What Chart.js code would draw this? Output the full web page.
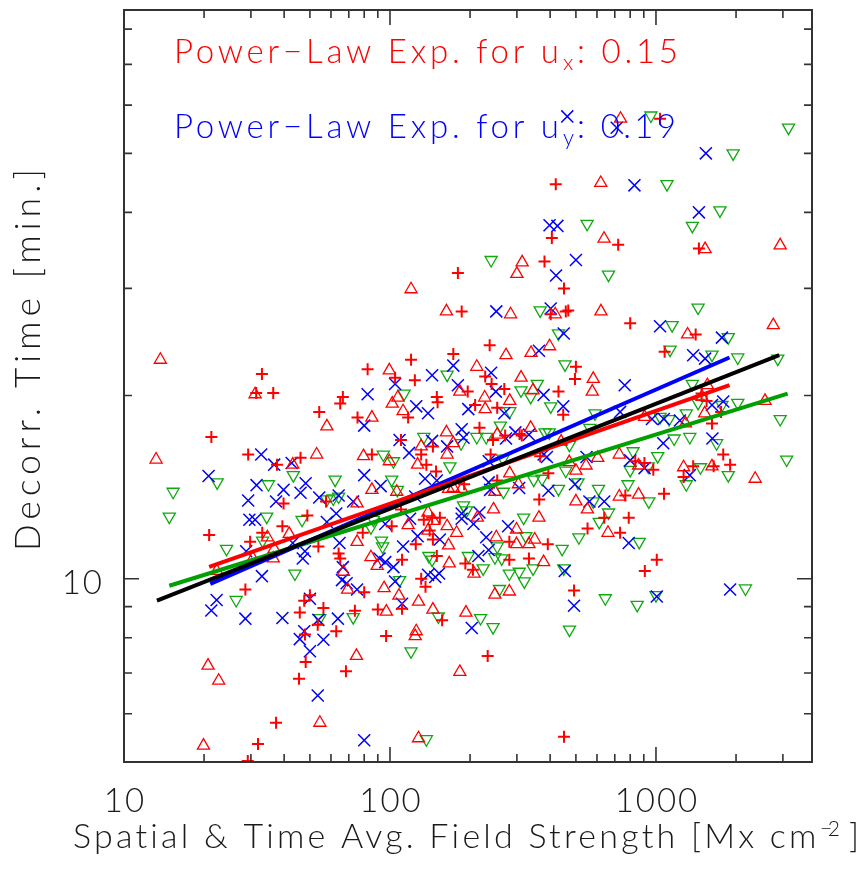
<!DOCTYPE html>
<html>
<head>
<meta charset="utf-8">
<script src="https://cdn.jsdelivr.net/npm/chart.js@4.4.1/dist/chart.umd.min.js"></script>
<style>
  html, body { margin: 0; padding: 0; background: #fff; }
  #wrap { position: relative; width: 868px; height: 869px; }
</style>
</head>
<body>
<div id="wrap"><canvas id="plot"></canvas></div>
<script>
// ── decorrelation time vs. field strength, log-log scatter ─────────────────
// four symbol sets (u_x: red +, red triangles; u_y: blue x, green triangles)
// plus the four power-law fit lines drawn on top.

// axis ranges and ticks
const X_MIN = 10, X_MAX = 3860;
const Y_MIN = 5, Y_MAX = 86;
const xMajor = [10, 100, 1000];
const xMinor = [20, 30, 40, 50, 60, 70, 80, 90, 200, 300, 400, 500, 600, 700, 800, 900, 2000, 3000];
const xTickLabels = ['10', '100', '1000'];
const yMajor = [10];
const yMinor = [5, 6, 7, 8, 9, 20, 30, 40, 50, 60, 70, 80];
const yTickLabels = ['10'];

// red plus
const redPlusField = [33,36.4,31.4,66.5,65,54.2,75.5,21.3,29.3,46.1, 37.6,39.8,57.5,48.9,39.4,20.9,33.1,29.8,53.8,64.1,
  65,28.6,45.8,47.6,50,56.2,53.5,73.8,47.9,62.8, 48.2,68.3,45.5,37.3,31.9,29.2,420,406,381,180,
  451,186,402,458,468,237,173,120,500,82.4, 104.5,124,228,496,241,196,269,430,448,150,
  151,117,209,253,217,307,313,244,271,110, 85.5,145,131,137,239,367,394,149,253,190,
  364,110,79,134,144,154,101.5,141,145,125, 281,392,553,111,150,192,205,281,333,80,
  131,136,111,90,157,96.7,233,492,451,1036, 721,1450,800,1410,1078,1484,1550,1757,1624,1790,
  836,905,977,1380,1647,1900,1270,767,1072,639, 790,733,1007,908];
const redPlusTime = [21.7,20.2,20.2,19.9,19.4,18.8,18.4,17.1,16,15.8, 15.4,13.3,13.4,12.7,12.2,11.8,11.9,11.5,11.3,11,
  10.8,9.6,8.8,9.2,9.4,8.95,8.4,8.86,8.1,8.2, 7.3,7.05,6.85,5.8,5.35,5.02,44.5,36.3,33.2,31.8,
  30,27.5,27.2,27.5,27.6,24.2,23.4,22.9,22.3,22.1, 21.4,21.2,21.5,21.3,20.9,20.3,20.5,20.3,18.6,19.9,
  19.5,18.4,19.3,19.1,17.7,17.3,17.2,16.9,17.2,16.9, 16,16.5,16,15.4,16,15.9,14.9,15,14.5,14.3,
  13.5,13,11.9,12.5,12.6,12.6,12.2,12,11.6,11.4, 11.5,11.4,12.1,10.75,10.9,10.6,10.35,10.75,10.8,9.5,
  10,9.7,8.93,8.9,8.55,8.05,7.47,9.57,5.5,57, 35.4,34.9,26.3,25.2,23.6,20.15,19.6,18.8,18,16,
  15.6,15.5,15.1,15.3,15.3,15.4,14.7,13.7,13.8,12.6, 12.6,11.9,10.75,10.3];

// red upward triangles
const redTriField = [13.7,31.1,57.9,13.2,53,43.1,75.2,34.6,41.8,36.7, 36.4,75.2,30.5,22.3,66.8,69.3,74.8,20.7,22.7,54.5,
  19.9,620,638,314,300,120,163,284,418,621, 398,339,273,99.4,212,311,581,107,102,183,
  345,576,112,85.5,227,228,282,163,338,440, 253,79.5,99.4,131,173,164,127,472,546,500,
  304,282,248,186,173,166,106,85.5,500,552, 139,245,213,363,117,146,164,178,139,166,
  251,299,333,350,299,84.8,89.5,167,378,207, 95,108,96.9,128,145,125.5,124.4,248,281,193,
  183,128,736,1530,2930,1315,2760,1560,1490,1525, 2570,906,1290,604,728,860,1270,1624,2360,728,
  860,660];
const redTriTime = [22.9,20.1,17.8,15.7,16,15.4,13.3,11.7,11.85,11.2, 10.8,11.5,10.8,10.3,10.27,9.6,7.47,7.2,6.8,5.8,
  5.32,44.7,36.2,33.1,31.7,29.9,27.5,27.2,27.2,27.5, 24.1,23.5,23.3,22,22.3,21.4,21.3,19.85,19.4,20.3,
  20.4,20.3,18.85,18.4,19.85,19,19.6,17.4,17.7,16.8, 17.25,15.9,15.6,16.5,16.7,16,15.4,15.55,15.35,15.05,
  14.3,14.9,13.9,14.05,14.1,14.05,13.9,14,13.4,13, 12.85,13,12.6,12.6,12.25,12.45,12.2,11.9,12,11.35,
  11.7,11.4,11.4,11.6,12.05,10.85,10.5,10.6,10.65,10.2, 9.65,9.38,8.83,9.17,8.9,8.2,8.05,9.42,9.53,8.8,
  7.03,5.47,57,34.8,35.3,25.2,26.1,20.8,19.9,18.7, 19.6,18.45,18,15.8,16,15.35,15.25,15.3,14.6,13.65,
  13.75,11.9];

// blue crosses
const blueXField = [32.8,36.7,42.7,20.8,31.5,48.2,39.8,46.1,29.3,37.3, 54.2,64.1,72.7,29.6,31.1,57.9,62.8,43.1,28.8,47.9,
  47,64.6,66.5,33,66,68.7,75.2,22.3,21.3,28.6, 39.4,50,53.8,63.7,47.6,45.8,56.2,50,53.5,80,
  464,398,426,500,421,251,402,450,363,173, 240,144,104.5,82.4,180,250,378,448,125.5,139,
  80,197,269,186,189,333,296,273,108.6,118, 144,164,235,378,389,548,496,80,92.2,135.5,
  150,235,306,238,394,124.4,562,186,217,96, 119,186,206,127,112,154,230,278,235,91.3,
  96,103,215,454,104.5,139,148,153,111,203, 492,712,1540,830,1450,1036,1770,1380,1530,763,
  1624,1790,733,966,1070,1230,1065,1630,800,906, 1340,639,790,1007,1900];
const blueXTime = [16,15.4,15.5,14.75,14.25,14.35,14,13.85,13.45,13.4, 13.6,13.7,13.4,12.5,12.5,12.4,12.8,11.45,11.1,11.1,
  10.8,11.45,10.45,10.1,9.95,9.83,9.6,9.23,8.87,8.6, 8.62,9.27,8.56,8.6,8.2,7.96,7.94,7.6,6.43,5.43,
  57.5,38.1,38,33.4,31.5,27.5,27.8,25.3,23.7,22.4, 21.8,21.6,20.9,20.1,20.8,20.3,20.05,19.2,19.2,18.7,
  17.85,19,18.7,17.6,17.05,17.25,17.4,17,16.9,16.1, 16.85,16.5,15.6,16,15.85,15.85,14.3,14.8,14.2,14.6,
  14.5,14.4,14.1,14,13.95,13.65,13.4,12.8,12.85,12.3, 12.55,12.55,12.3,11.75,11.3,11.6,11.7,12.2,11.15,10.8,
  10.65,10.45,10.9,10.3,9.9,10.15,10.07,10.2,9.1,8.3, 9.03,55.1,50,44.3,40,26,24.9,23.3,23,20.8,
  19.3,19.55,18.8,18.3,18.3,18.2,16.7,17,15.65,15.2, 14.8,13.4,11.45,9.35,9.6];

// green downward triangles
const greenTriField = [22.4,15.3,14.8,34.9,43.3,62.2,57.9,61.2,64.1,34.4, 46.7,33.2,24.3,43.9,26.4,54.5,72.7,551,240,663,
  367,430,455,164,113,311,358,338,402,590, 282,260,383,397,473,564,212,230,94.4,134,
  185,168,103,266,458,347,373,509,267,430, 106.6,101.5,581,612,189,194,318,86.6,84.8,92.9,
  93.8,324,444,513,253,140,144,197,224,248, 263,345,450,108.6,152,120,281,306,320,258,
  219,244,473,137,957,3150,1950,1100,1740,1370, 1440,1150,1870,1130,1624,2030,2870,1370,1440,1770,
  2030,2930,1036,1120,1300,1170,1340,1690,3100,820, 1015,800,935,1470,1870,1300,785,608,940,663,
  865,645,850,1000,2170];
const greenTriTime = [14.4,13.9,12.65,14.3,14.8,14.55,13.5,13.55,13.65,12.65, 12.5,11.55,11.2,10.2,9.23,8.62,8.65,38.3,33.4,31.6,
  27.6,25.3,22.5,21.65,20.15,20.4,20.9,19.9,19.2,18.7, 18.85,17.85,17.4,17.4,16.6,17.7,17.1,17.1,16,17.1,
  16.7,15.3,15.6,15.75,15.05,14.55,14.6,14.4,13.9,14.05, 14,14.55,13.4,12.4,13.2,12.95,12.6,12.5,12.15,11.55,
  11.3,11.75,11.2,11.7,11.3,10.9,10.75,10.9,10.4,10.85, 10.8,10.4,10.4,9.95,8.67,7.6,10.2,10.27,9.9,9.62,
  8.62,8.33,8.25,5.45,57.7,55.1,50,44.5,40.3,38, 27.9,26.1,24.95,23.8,23.35,23.1,23,20.9,19.45,19.3,
  19.45,18.3,18.45,18.3,18.7,17,17.1,16.7,15.7,16.2, 15.9,15.1,15.3,15.25,14.8,14.3,14.3,14.05,13.4,12.85,
  11.5,9.29,9.06,9.4,9.64];

// fit lines (end points)
const blackFitField = [13.3, 2907], blackFitTime = [9.21, 23.3];
const redFitField = [20.9, 1890], redFitTime = [10.46, 20.8];
const blueFitField = [21.1, 1890], blueFitTime = [9.81, 23.1];
const greenFitField = [14.8, 3126], greenFitTime = [9.74, 20.15];

const RED = '#ff0000', BLUE = '#0000ff', GREEN = '#10a810', GREEN_FIT = '#00a000';
const INK = '#1a1a1a', AXIS = '#333';
const FONT = "Lato, 'DejaVu Sans', sans-serif";

const pts = (xs, ys) => xs.map((x, i) => ({ x, y: ys[i] }));

const marks = (label, xs, ys, style, color, r, w, rot) => ({
  type: 'scatter', label, data: pts(xs, ys),
  pointStyle: style, pointRadius: r, pointHoverRadius: r, pointBorderColor: color,
  pointBackgroundColor: 'rgba(0,0,0,0)', pointBorderWidth: w, pointRotation: rot || 0,
  order: 2
});

const fit = (label, xs, ys, color) => ({
  type: 'line', label, data: pts(xs, ys), borderColor: color, borderWidth: 4,
  pointRadius: 0, fill: false, order: 0
});

// spread a string across a given width (mimics the wide IDL vector font)
function spread(ctx, txt, x, y, w, size) {
  ctx.font = `300 ${size}px ${FONT}`;
  ctx.letterSpacing = '0px';
  const raw = ctx.measureText(txt).width;
  const n = [...txt].length;
  ctx.letterSpacing = ((w - raw) / Math.max(1, n - 1)) + 'px';
  ctx.fillText(txt, x, y);
  ctx.letterSpacing = '0px';
}

const frame = {
  id: 'frame',
  afterDraw(chart) {
    const { ctx, chartArea: a, scales: { x, y } } = chart;
    ctx.save();
    ctx.strokeStyle = AXIS;
    ctx.lineWidth = 2;
    ctx.strokeRect(a.left, a.top, a.right - a.left, a.bottom - a.top);

    // inward ticks on all four sides
    ctx.lineWidth = 1.6;
    ctx.beginPath();
    const xt = (vals, len) => vals.forEach(v => {
      const px = x.getPixelForValue(v);
      ctx.moveTo(px, a.bottom); ctx.lineTo(px, a.bottom - len);
      ctx.moveTo(px, a.top); ctx.lineTo(px, a.top + len);
    });
    const yt = (vals, len) => vals.forEach(v => {
      const py = y.getPixelForValue(v);
      ctx.moveTo(a.left, py); ctx.lineTo(a.left + len, py);
      ctx.moveTo(a.right, py); ctx.lineTo(a.right - len, py);
    });
    xt(xMajor, 15); xt(xMinor, 8);
    yt(yMajor, 15); yt(yMinor, 8);
    ctx.stroke();

    // tick labels
    ctx.fillStyle = INK;
    ctx.textBaseline = 'alphabetic';
    ctx.font = `300 33px ${FONT}`;
    ctx.letterSpacing = '2px';
    ctx.textAlign = 'center';
    xMajor.forEach((v, i) => ctx.fillText(xTickLabels[i], x.getPixelForValue(v) + 1, a.bottom + 50));
    ctx.textAlign = 'right';
    yMajor.forEach((v, i) => ctx.fillText(yTickLabels[i], 104, y.getPixelForValue(v) + 15));
    ctx.textAlign = 'left';
    ctx.letterSpacing = '0px';

    // x title with superscript
    spread(ctx, 'Spatial & Time Avg. Field Strength [Mx cm', 73, 848, 744, 34);
    spread(ctx, '−2', 820, 836, 20, 21);
    spread(ctx, ']', 849, 848, 8, 34);

    // y title, rotated
    ctx.save();
    ctx.translate(40, 551);
    ctx.rotate(-Math.PI / 2);
    spread(ctx, 'Decorr. Time [min.]', 0, 0, 382, 35);
    ctx.restore();

    // exponent annotations
    ctx.fillStyle = RED;
    spread(ctx, 'Power−Law Exp. for u', 174, 63, 385, 33);
    spread(ctx, 'x', 563, 70, 10, 22);
    spread(ctx, ': 0.15', 577, 63, 101, 33);
    ctx.fillStyle = BLUE;
    spread(ctx, 'Power−Law Exp. for u', 174, 138, 385, 33);
    spread(ctx, 'y', 563, 145, 10, 22);
    spread(ctx, ': 0.19', 577, 138, 99, 33);
    ctx.restore();
  }
};

const logAxis = (min, max, fitBox) => ({
  type: 'logarithmic', min, max, display: true,
  ticks: { display: false }, grid: { display: false, drawTicks: false }, border: { display: false },
  afterFit: fitBox
});

new Chart(document.getElementById('plot'), {
  type: 'scatter',
  data: {
    datasets: [
      fit('fit all', blackFitField, blackFitTime, '#000'),
      fit('fit ux', redFitField, redFitTime, RED),
      fit('fit uy', blueFitField, blueFitTime, BLUE),
      fit('fit uy 2', greenFitField, greenFitTime, GREEN_FIT),
      marks('ux +', redPlusField, redPlusTime, 'cross', RED, 6, 2),
      marks('ux tri', redTriField, redTriTime, 'triangle', RED, 7, 1.3),
      marks('uy x', blueXField, blueXTime, 'crossRot', BLUE, 8.5, 1.5),
      marks('uy tri', greenTriField, greenTriTime, 'triangle', GREEN, 7, 1.3, 180)
    ]
  },
  options: {
    responsive: true, maintainAspectRatio: false, animation: false, devicePixelRatio: 1,
    layout: { padding: { left: 0, top: 3, right: 56, bottom: 0 } },
    plugins: { legend: { display: false }, tooltip: { enabled: false } },
    scales: {
      x: logAxis(X_MIN, X_MAX, s => { s.height = 107; }),
      y: logAxis(Y_MIN, Y_MAX, s => { s.width = 124; })
    }
  },
  plugins: [frame]
});
</script>
</body>
</html>
